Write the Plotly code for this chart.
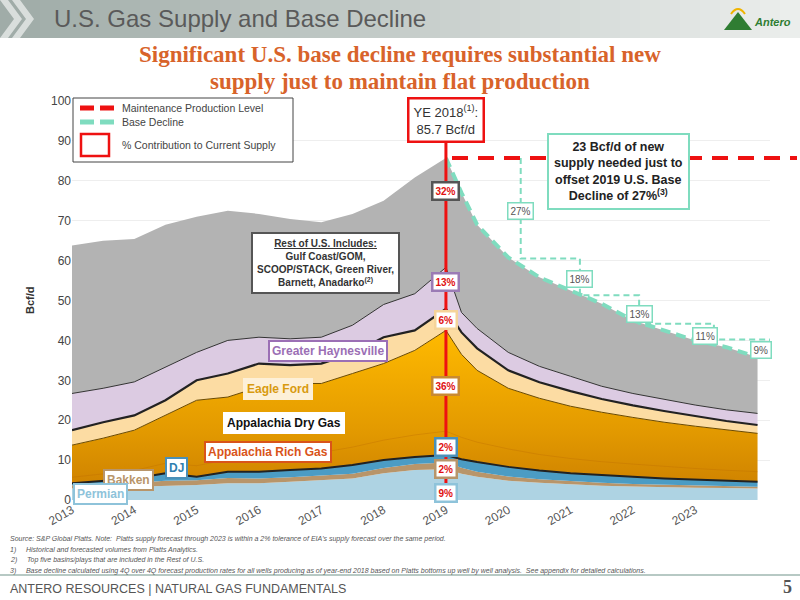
import plotly.graph_objects as go

# decimal years
years = [2013.0, 2013.5, 2014.0, 2014.5, 2015.0, 2015.5, 2016.0, 2016.5, 2017.0, 2017.5, 2018.0, 2018.5, 2019.0,
         2019.25, 2019.5, 2020.0, 2020.5, 2021.0, 2021.5, 2022.0, 2022.5, 2023.0, 2023.5, 2024.0]
# upper boundary of each stacked layer (Bcf/d)
permian_top = [2.9, 3.1, 3.3, 3.5, 3.75, 4.2, 4.2, 4.6, 5.0, 5.4, 6.7, 7.5, 7.7, 6.6, 5.8, 4.8, 4.3, 3.9, 3.6, 3.4, 3.2, 3.1, 3.0, 2.9]
bakken_top = [3.7, 4.0, 4.3, 4.8, 4.95, 5.5, 5.4, 5.7, 6.1, 6.6, 8.0, 9.0, 9.4, 8.1, 7.1, 5.9, 5.2, 4.7, 4.3, 4.0, 3.8, 3.6, 3.5, 3.3]
dj_top = [4.2, 4.8, 5.4, 6.7, 5.8, 7.1, 7.1, 7.5, 7.9, 8.75, 10.0, 10.8, 11.25, 10.2, 9.5, 8.3, 7.4, 6.7, 6.2, 5.8, 5.4, 5.1, 4.85, 4.6]
rich_top = [5.7, 6.6, 7.4, 9.2, 8.6, 10.1, 10.4, 11.1, 11.9, 13.25, 15.0, 16.3, 17.25, 15.7, 14.5, 12.8, 11.4, 10.4, 9.6, 9.0, 8.4, 7.9, 7.45, 7.1]
dry_top = [13.75, 15.5, 17.5, 21.2, 25.0, 25.8, 28.3, 29.2, 29.2, 31.7, 34.2, 37.5, 42.5, 36.5, 32.5, 28.0, 25.5, 23.5, 22.0, 20.7, 19.5, 18.5, 17.6, 16.7]
eagle_top = [17.5, 19.5, 21.2, 25.0, 30.0, 31.7, 34.2, 33.8, 34.2, 36.7, 40.8, 42.5, 47.9, 42.0, 38.0, 32.5, 29.5, 27.3, 25.3, 23.7, 22.3, 21.0, 19.8, 18.8]
hay_top = [26.7, 28.0, 29.6, 33.3, 37.0, 40.0, 40.8, 40.4, 40.8, 43.8, 49.0, 51.7, 58.3, 47.0, 43.0, 37.0, 33.5, 31.0, 28.5, 26.7, 25.2, 23.8, 22.6, 21.7]
total = [63.8, 65.0, 65.4, 69.0, 71.0, 72.5, 71.7, 70.4, 69.6, 71.7, 75.0, 80.8, 85.7, 77.0, 69.0, 60.8, 55.8, 52.5, 49.2, 45.0, 42.5, 40.0, 38.3, 35.8]

ye2018 = 85.7
contrib_labels = ["32%", "13%", "6%", "36%", "2%", "2%", "9%"]
contrib_y = [77.5, 54.75, 45.0, 28.5, 13.25, 7.75, 1.75]
contrib_colors = ["#555555", "#9b7bb5", "#f5d49a", "#c98a30", "#4a90b8", "#b8956a", "#8ec3da"]
decline_labels = ["27%", "18%", "13%", "11%", "9%"]
decline_x = [2020.2, 2021.15, 2022.1, 2023.15, 2024.05]
decline_y = [72.5, 55.5, 46.5, 41.2, 37.5]
step_x = [2020.2, 2020.2, 2021.15, 2021.15, 2022.1, 2022.1, 2023.3, 2023.3, 2024.2, 2024.2]
step_y = [85.7, 60.5, 60.5, 51.3, 51.3, 44.2, 44.2, 40.2, 40.2, 36.5]
year_ticks = list(range(2013, 2024))

fig = go.Figure()
fig.add_trace(go.Scatter(x=years, y=[0]*len(years), mode="lines", line=dict(width=0), showlegend=False, hoverinfo="skip"))
layers = [
    (permian_top, "#aed3e3", 0, "#aed3e3"),
    (bakken_top, "#b8956a", 0, "#b8956a"),
    (dj_top, "#4b9cc4", 2, "#222222"),
    (dry_top, None, 1, "#6b4a00"),
    (eagle_top, "#fcdca3", 2.2, "#222222"),
    (hay_top, "#dccbe2", 1, "#333333"),
    (total, "#b3b3b3", 0, "#b3b3b3"),
]
for ys, col, w, lc in layers:
    kw = dict(x=years, y=ys, mode="lines", fill="tonexty", line=dict(width=w, color=lc),
              showlegend=False, hoverinfo="skip")
    if col is None:
        kw["fillgradient"] = dict(type="vertical", colorscale=[[0, "#d08400"], [0.35, "#e39a00"], [1, "#ffba00"]])
    else:
        kw["fillcolor"] = col
    fig.add_trace(go.Scatter(**kw))
# Appalachia Rich Gas boundary (blends into the Appalachia fill)
fig.add_trace(go.Scatter(x=years, y=rich_top, mode="lines", line=dict(width=1, color="rgba(190,110,0,0.35)"),
                         showlegend=False, hoverinfo="skip"))

fig.add_trace(go.Scatter(x=years[12:], y=total[12:], mode="lines", line=dict(color="#7fdcbf", width=4, dash="10px,6px"),
                         showlegend=False, hoverinfo="skip"))
fig.add_trace(go.Scatter(x=step_x, y=step_y, mode="lines", line=dict(color="#7fdcbf", width=2, dash="6px,4px"),
                         showlegend=False, hoverinfo="skip"))

def px(xp): return (xp - 72) / 698
def py(yp): return (500 - yp) / 399

shapes = []
n = 40
for i in range(n):
    t = i / (n - 1)
    r = int(160 + (235 - 160) * t); g = int(172 + (238 - 172) * t); b = int(168 + (236 - 168) * t)
    shapes.append(dict(type="rect", xref="paper", yref="paper", x0=px(i*800/n), x1=px((i+1)*800/n + 1),
                       y0=py(38), y1=py(0), fillcolor=f"rgb({r},{g},{b})", line_width=0, layer="below"))
for xs in (0, 12):
    shapes.append(dict(type="path", xref="paper", yref="paper",
                       path=f"M {px(xs)} {py(0)} L {px(xs+8)} {py(0)} L {px(xs+22)} {py(19)} L {px(xs+8)} {py(38)} L {px(xs)} {py(38)} L {px(xs+14)} {py(19)} Z",
                       fillcolor="rgba(255,255,255,0.6)", line_width=0))
shapes.append(dict(type="path", xref="paper", yref="paper",
                   path=f"M {px(724)} {py(30)} L {px(738)} {py(12)} L {px(752)} {py(30)} Z", fillcolor="#2f7d32", line_width=0))
shapes.append(dict(type="path", xref="paper", yref="paper",
                   path=f"M {px(731)} {py(14)} Q {px(738)} {py(4)} {px(745)} {py(14)}", line=dict(color="#f0b400", width=2)))
shapes.append(dict(type="line", xref="paper", yref="paper", x0=px(0), x1=px(800), y0=py(575), y1=py(575),
                   line=dict(color="#b7c9c4", width=2)))
shapes.append(dict(type="rect", xref="paper", yref="paper", x0=px(73), x1=px(293), y0=py(98), y1=py(162),
                   line=dict(color="#444444", width=1), fillcolor="white"))
shapes.append(dict(type="line", xref="paper", yref="paper", x0=px(80), x1=px(114), y0=py(108), y1=py(108),
                   line=dict(color="#ee1111", width=5, dash="14px,6px")))
shapes.append(dict(type="line", xref="paper", yref="paper", x0=px(80), x1=px(114), y0=py(122), y1=py(122),
                   line=dict(color="#7fdcbf", width=5, dash="14px,6px")))
shapes.append(dict(type="rect", xref="paper", yref="paper", x0=px(81), x1=px(109), y0=py(134), y1=py(156),
                   line=dict(color="#ee1111", width=2.5)))
shapes.append(dict(type="line", xref="paper", yref="y", x0=px(452), x1=px(797), y0=ye2018, y1=ye2018,
                   line=dict(color="#ee1111", width=4, dash="16px,10px")))
shapes.append(dict(type="line", xref="x", yref="y", x0=2019.0, x1=2019.0, y0=0, y1=90,
                   line=dict(color="#ee1111", width=3)))

annotations = []
def txt(x, y, text, size, color="#333", xref="paper", yref="paper", **kw):
    fam = kw.pop("family", "Liberation Sans")
    d = dict(x=x, y=y, xref=xref, yref=yref, text=text, showarrow=False, xanchor="center", yanchor="middle",
             font=dict(size=size, color=color, family=fam))
    d.update(kw)
    annotations.append(d)

txt(px(52), py(19), "U.S. Gas Supply and Base Decline", 24, "#5a5a5a", xanchor="left")
txt(px(752), py(22), "<i><b>Antero</b></i>", 11, "#2f7d32", xanchor="left")
txt(px(400), py(55), "<b>Significant U.S. base decline requires substantial new</b>", 23, "#d8632a", family="Liberation Serif")
txt(px(400), py(82), "<b>supply just to maintain flat production</b>", 23, "#d8632a", family="Liberation Serif")
txt(px(120), py(108), "Maintenance Production Level", 10.5, "#444", xanchor="left")
txt(px(120), py(122), "Base Decline", 10.5, "#444", xanchor="left")
txt(px(120), py(145), "% Contribution to Current Supply", 10.5, "#444", xanchor="left")
txt(px(446), py(120), "YE 2018<sup>(1)</sup>:<br>85.7 Bcf/d", 13, "#333", bgcolor="white", bordercolor="#ee1111", borderwidth=2.5, borderpad=4)
txt(px(618), py(171), "<b>23 Bcf/d of new<br>supply needed just to<br>offset 2019 U.S. Base<br>Decline of 27%<sup>(3)</sup></b>", 12.5, "#222",
    bgcolor="white", bordercolor="#7fdcbf", borderwidth=2, borderpad=5)
txt(px(325), py(263), "<b><u>Rest of U.S. Includes:</u><br>Gulf Coast/GOM,<br>SCOOP/STACK, Green River,<br>Barnett, Anadarko<sup>(2)</sup></b>", 10, "#333",
    bgcolor="white", bordercolor="#555", borderwidth=2, borderpad=4)
for lab, yv, c in zip(contrib_labels, contrib_y, contrib_colors):
    txt(2019.0, yv, f"<b>{lab}</b>", 10, "#e01010", xref="x", yref="y", bgcolor="white", bordercolor=c, borderwidth=2.5, borderpad=2)
for lab, xv, yv in zip(decline_labels, decline_x, decline_y):
    txt(xv, yv, lab, 10, "#555", xref="x", yref="y", bgcolor="white", bordercolor="#7fdcbf", borderwidth=1.5, borderpad=2)
series_labels = [("Greater Haynesville", 2017.1, 37.3, "#9b6fb5", "#9b6fb5", "white"),
                 ("Eagle Ford", 2016.3, 27.7, "#d89a10", "#fdf0d8", "#fdf0d8"),
                 ("Appalachia Dry Gas", 2016.4, 19.2, "#111", "white", "white"),
                 ("Appalachia Rich Gas", 2016.15, 12.0, "#d9541a", "#d9541a", "white"),
                 ("DJ", 2014.67, 8.0, "#2f7fb0", "#4a90b8", "white"),
                 ("Bakken", 2013.9, 5.0, "#b8956a", "#b8956a", "white"),
                 ("Permian", 2013.45, 1.6, "#8ec3da", "#8ec3da", "white")]
for lab, xv, yv, fc, bc, bg in series_labels:
    txt(xv, yv, f"<b>{lab}</b>", 12, fc, xref="x", yref="y", bgcolor=bg, bordercolor=bc, borderwidth=2, borderpad=2)
txt(px(30), py(300), "<b>Bcf/d</b>", 11, "#333", textangle=-90)
notes = ["Source: S&P Global Platts. Note:  Platts supply forecast through 2023 is within a 2% tolerance of EIA's supply forecast over the same period.",
         "1)     Historical and forecasted volumes from Platts Analytics.",
         "2)     Top five basins/plays that are included in the Rest of U.S.",
         "3)     Base decline calculated using 4Q over 4Q forecast production rates for all wells producing as of year-end 2018 based on Platts bottoms up well by well analysis.  See appendix for detailed calculations."]
for i, nt in enumerate(notes):
    txt(px(8), py(539 + i*10.5), f"<i>{nt}</i>", 7, "#555", xanchor="left")
txt(px(8), py(589), "ANTERO RESOURCES | NATURAL GAS FUNDAMENTALS", 12.5, "#555", xanchor="left")
txt(px(794), py(587), "<b>5</b>", 18, "#555", xanchor="right", family="Liberation Serif")

fig.update_layout(
    width=800, height=600, margin=dict(l=72, r=30, t=101, b=100),
    paper_bgcolor="white", plot_bgcolor="white", shapes=shapes, annotations=annotations,
    xaxis=dict(range=[2013, 2024.2], tickvals=year_ticks, ticktext=[str(y) for y in year_ticks], tickangle=-30,
               showgrid=False, zeroline=False, showline=False, ticks="", tickfont=dict(size=12, color="#555")),
    yaxis=dict(range=[0, 100], dtick=10, showgrid=True, gridcolor="#eeeeee", zeroline=False,
               tickfont=dict(size=12, color="#444"), ticks=""),
    font=dict(family="Liberation Sans"),
)
fig.write_html("out.html", config={"displayModeBar": False},
               post_script="document.body.style.margin='0';document.body.style.padding='0';")
